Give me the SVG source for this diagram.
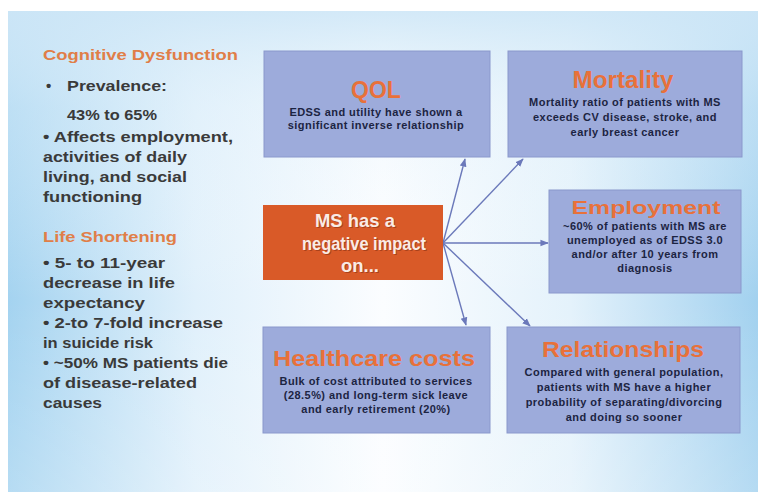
<svg xmlns="http://www.w3.org/2000/svg" width="758" height="492" viewBox="0 0 758 492">
<defs>
  <linearGradient id="bgH" x1="0" y1="0" x2="1" y2="0">
    <stop offset="0" stop-color="#a4d3f0"/>
    <stop offset="0.25" stop-color="#e0f0fb"/>
    <stop offset="0.5" stop-color="#fbfdff"/>
    <stop offset="0.75" stop-color="#e4f2fb"/>
    <stop offset="1" stop-color="#a2d1ef"/>
  </linearGradient>
  <linearGradient id="bgV" x1="0" y1="0" x2="0" y2="1">
    <stop offset="0" stop-color="#cfe7f7" stop-opacity="0.9"/>
    <stop offset="0.2" stop-color="#e4f2fb" stop-opacity="0.4"/>
    <stop offset="0.6" stop-color="#ffffff" stop-opacity="0"/>
    <stop offset="1" stop-color="#ffffff" stop-opacity="0.2"/>
  </linearGradient>
  <marker id="arr" viewBox="0 0 10 10" refX="9" refY="5" markerWidth="6" markerHeight="6" orient="auto">
    <path d="M0,1 L10,5 L0,9 Z" fill="#6b79ba"/>
  </marker>
</defs>
<style>
  .box { fill: #9dabdb; stroke: #8a98cc; stroke-width: 1; }
  .title { font-family: "Liberation Sans", Arial, sans-serif; font-weight: bold; fill: #e8713a; text-anchor: middle; }
  .body { font-family: "Liberation Sans", Arial, sans-serif; font-weight: bold; font-size: 11px; letter-spacing: 0.45px; fill: #1c2442; text-anchor: middle; }
  .side { font-family: "Liberation Sans", Arial, sans-serif; font-weight: bold; font-size: 15px; fill: #3a3a3a; }
  .head { font-family: "Liberation Sans", Arial, sans-serif; font-weight: bold; font-size: 15px; fill: #e07e48; }
  .ms { font-family: "Liberation Sans", Arial, sans-serif; font-weight: bold; font-size: 19px; fill: #f9ece6; text-anchor: middle; }
  .mss { font-family: "Liberation Sans", Arial, sans-serif; font-weight: bold; font-size: 19px; fill: #7a2a10; opacity: 0.5; text-anchor: middle; }
  .conn { stroke: #6b79ba; stroke-width: 1.4; fill: none; marker-end: url(#arr); }
</style>
<rect x="0" y="0" width="758" height="492" fill="#ffffff"/>
<rect x="8" y="11" width="750" height="481" fill="url(#bgH)"/>
<rect x="8" y="11" width="750" height="481" fill="url(#bgV)"/>

<g id="left-text">
  <text class="head" x="43" y="60" textLength="195" lengthAdjust="spacingAndGlyphs">Cognitive Dysfunction</text>
  <text class="side" x="46" y="91">•</text>
  <text class="side" x="67" y="91" textLength="100" lengthAdjust="spacingAndGlyphs">Prevalence:</text>
  <text class="side" x="67" y="120" font-weight="normal" textLength="90" lengthAdjust="spacingAndGlyphs">43%  to 65%</text>
  <text class="side" x="43" y="142" textLength="190" lengthAdjust="spacingAndGlyphs">• Affects employment,</text>
  <text class="side" x="43" y="162" textLength="144" lengthAdjust="spacingAndGlyphs">activities of daily</text>
  <text class="side" x="43" y="182" textLength="144" lengthAdjust="spacingAndGlyphs">living,  and social</text>
  <text class="side" x="43" y="202" textLength="99" lengthAdjust="spacingAndGlyphs">functioning</text>
  <text class="head" x="43" y="242" textLength="134" lengthAdjust="spacingAndGlyphs">Life Shortening</text>
  <text class="side" x="43" y="268" textLength="122" lengthAdjust="spacingAndGlyphs">• 5-  to 11-year</text>
  <text class="side" x="43" y="288" textLength="132" lengthAdjust="spacingAndGlyphs">decrease in life</text>
  <text class="side" x="43" y="308" textLength="102" lengthAdjust="spacingAndGlyphs">expectancy</text>
  <text class="side" x="43" y="328" textLength="180" lengthAdjust="spacingAndGlyphs">• 2-to 7-fold increase</text>
  <text class="side" x="43" y="348" textLength="110" lengthAdjust="spacingAndGlyphs">in suicide risk</text>
  <text class="side" x="43" y="368" textLength="185" lengthAdjust="spacingAndGlyphs">• ~50% MS patients die</text>
  <text class="side" x="43" y="388" textLength="154" lengthAdjust="spacingAndGlyphs">of disease-related</text>
  <text class="side" x="43" y="408" textLength="59" lengthAdjust="spacingAndGlyphs">causes</text>
</g>

<g id="connectors">
  <line class="conn" x1="443" y1="243" x2="465" y2="159"/>
  <line class="conn" x1="443" y1="243" x2="523" y2="159"/>
  <line class="conn" x1="443" y1="243" x2="548" y2="243"/>
  <line class="conn" x1="443" y1="243" x2="466" y2="325"/>
  <line class="conn" x1="443" y1="243" x2="530" y2="326"/>
</g>

<g id="ms">
  <rect x="263" y="205" width="180" height="75" fill="#d95a28"/>
  <text class="mss" x="356" y="228" textLength="80" lengthAdjust="spacingAndGlyphs">MS has a</text>
  <text class="mss" x="365" y="251" textLength="124" lengthAdjust="spacingAndGlyphs">negative impact</text>
  <text class="mss" x="361" y="273" textLength="38" lengthAdjust="spacingAndGlyphs">on...</text>
  <text class="ms" x="355" y="227" textLength="80" lengthAdjust="spacingAndGlyphs">MS has a</text>
  <text class="ms" x="364" y="250" textLength="124" lengthAdjust="spacingAndGlyphs">negative impact</text>
  <text class="ms" x="360" y="272" textLength="38" lengthAdjust="spacingAndGlyphs">on...</text>
</g>

<g id="qol">
  <rect class="box" x="264" y="51" width="226" height="106"/>
  <text class="title" x="376" y="98" font-size="23">QOL</text>
  <text class="body" x="376" y="116">EDSS and utility have shown a</text>
  <text class="body" x="376" y="129">significant inverse relationship</text>
</g>

<g id="mortality">
  <rect class="box" x="508" y="51" width="234" height="106"/>
  <text class="title" x="623" y="88" font-size="23" textLength="101" lengthAdjust="spacingAndGlyphs">Mortality</text>
  <text class="body" x="625" y="106">Mortality ratio of patients with MS</text>
  <text class="body" x="625" y="121">exceeds CV disease, stroke, and</text>
  <text class="body" x="625" y="136">early breast cancer</text>
</g>

<g id="employment">
  <rect class="box" x="549" y="190" width="192" height="103"/>
  <text class="title" x="646" y="214" font-size="19" textLength="149" lengthAdjust="spacingAndGlyphs">Employment</text>
  <text class="body" x="645" y="230">~60% of patients  with MS are</text>
  <text class="body" x="645" y="244">unemployed as of EDSS 3.0</text>
  <text class="body" x="645" y="258">and/or after 10 years from</text>
  <text class="body" x="645" y="272">diagnosis</text>
</g>

<g id="healthcare">
  <rect class="box" x="263" y="327" width="227" height="106"/>
  <text class="title" x="374" y="366" font-size="22" textLength="202" lengthAdjust="spacingAndGlyphs">Healthcare costs</text>
  <text class="body" x="376" y="385">Bulk of cost attributed to services</text>
  <text class="body" x="376" y="399">(28.5%) and long-term sick leave</text>
  <text class="body" x="376" y="413">and early retirement (20%)</text>
</g>

<g id="relationships">
  <rect class="box" x="507" y="327" width="233" height="106"/>
  <text class="title" x="623" y="357" font-size="22" textLength="162" lengthAdjust="spacingAndGlyphs">Relationships</text>
  <text class="body" x="624" y="376">Compared with general population,</text>
  <text class="body" x="624" y="391">patients  with MS have a higher</text>
  <text class="body" x="624" y="406">probability of separating/divorcing</text>
  <text class="body" x="624" y="421">and doing so sooner</text>
</g>
</svg>
